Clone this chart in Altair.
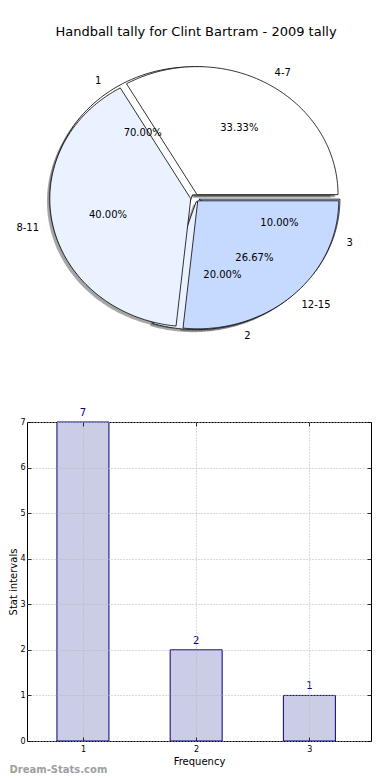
import altair as alt
import pandas as pd

# ---------------- data ----------------
outer_labels = ["4-7", "8-11", "12-15"]
outer_counts = [5, 6, 4]
inner_labels = ["1", "2", "3"]
inner_counts = [7, 2, 1]

freq_values = [1, 2, 3]
stat_values = [7, 2, 1]
stat_ticks = [0, 1, 2, 3, 4, 5, 6, 7]

title_text = "Handball tally for Clint Bartram - 2009 tally"
x_title = "Frequency"
y_title = "Stat intervals"
watermark = ["Dream-Stats.com"]

slice_colors = ["#ffffff", "#ebf2ff", "#c6d9ff"]

# ---------------- geometry / style constants ----------------
EXPLODE = 0.03
SHADOW = 0.02
N = 120
FONT = "DejaVu Sans"
PLOT_W = 344

XMIN, XMAX = -1.191, 1.249
YMIN, YMAX = -1.477, 1.195

rows = []
for ring, labs, cnts in (("inner", inner_labels, inner_counts),
                         ("outer", outer_labels, outer_counts)):
    for i, (lab, c) in enumerate(zip(labs, cnts)):
        rows.append({"ring": ring, "label": lab, "count": c, "idx": i})
pie_df = pd.DataFrame(rows)

xs = alt.Scale(domain=[XMIN, XMAX], nice=False, zero=False)
ys = alt.Scale(domain=[YMIN, YMAX], nice=False, zero=False)

base = (
    alt.Chart(pie_df)
    .transform_joinaggregate(total="sum(count)", groupby=["ring"])
    .transform_window(cum="sum(count)", groupby=["ring"],
                      sort=[alt.SortField("idx")], frame=[None, 0])
    .transform_calculate(a0="2*PI*(datum.cum - datum.count)/datum.total")
    .transform_calculate(a1="2*PI*datum.cum/datum.total")
    .transform_calculate(mid="(datum.a0 + datum.a1)/2")
    .transform_calculate(ex=f"{EXPLODE}*cos(datum.mid)")
    .transform_calculate(ey=f"{EXPLODE}*sin(datum.mid)")
    .transform_calculate(pct="format(100*datum.count/datum.total, '.2f') + '%'")
    .transform_calculate(key="datum.ring + '|' + datum.label")
)

poly = (
    base.transform_calculate(k=f"sequence(0, {N + 2})")
    .transform_flatten(["k"])
    .transform_calculate(ang=f"datum.a0 + (datum.a1 - datum.a0)*(datum.k - 1)/{N}")
    .transform_calculate(px="datum.k == 0 ? datum.ex : datum.ex + cos(datum.ang)")
    .transform_calculate(py="datum.k == 0 ? datum.ey : datum.ey + sin(datum.ang)")
)

shadow = (
    poly.transform_calculate(sx=f"datum.px - {SHADOW}", sy=f"datum.py - {SHADOW}")
    .mark_line(interpolate="linear-closed", fill="#4d4d4d", fillOpacity=0.5,
               stroke="#4d4d4d", strokeOpacity=0.0)
    .encode(x=alt.X("sx:Q", scale=xs, axis=None),
            y=alt.Y("sy:Q", scale=ys, axis=None),
            detail="key:N", order="k:Q")
)

fill_enc = alt.Fill("idx:O", scale=alt.Scale(domain=[0, 1, 2], range=slice_colors), legend=None)


def wedges(ring):
    return (
        poly.transform_filter(f"datum.ring == '{ring}'")
        .mark_line(interpolate="linear-closed", stroke="black", strokeWidth=0.8)
        .encode(x=alt.X("px:Q", scale=xs, axis=None),
                y=alt.Y("py:Q", scale=ys, axis=None),
                detail="key:N", order="k:Q", fill=fill_enc)
    )


lab = (base.transform_calculate(lx="datum.ex + 1.1*cos(datum.mid)")
       .transform_calculate(ly="datum.ey + 1.1*sin(datum.mid)"))
lab_right = (
    lab.transform_filter("cos(datum.mid) > 0")
    .mark_text(align="left", baseline="middle", fontSize=10, font=FONT, color="black")
    .encode(x=alt.X("lx:Q", scale=xs, axis=None), y=alt.Y("ly:Q", scale=ys, axis=None),
            text="label:N")
)
lab_left = (
    lab.transform_filter("cos(datum.mid) <= 0")
    .mark_text(align="right", baseline="middle", fontSize=10, font=FONT, color="black")
    .encode(x=alt.X("lx:Q", scale=xs, axis=None), y=alt.Y("ly:Q", scale=ys, axis=None),
            text="label:N")
)
pct = (
    base.transform_calculate(tx="datum.ex + 0.6*cos(datum.mid)")
    .transform_calculate(ty="datum.ey + 0.6*sin(datum.mid)")
    .mark_text(align="center", baseline="middle", fontSize=10, font=FONT, color="black")
    .encode(x=alt.X("tx:Q", scale=xs, axis=None), y=alt.Y("ty:Q", scale=ys, axis=None),
            text="pct:N")
)

pie = alt.layer(shadow, wedges("inner"), wedges("outer"), lab_right, lab_left, pct).properties(
    width=PLOT_W, height=342,
    title=alt.TitleParams(title_text, fontSize=13, fontWeight="normal", font=FONT,
                          color="black", anchor="middle", frame="group", offset=6, dx=-3),
    view=alt.ViewBackground(stroke="transparent"),
)

# ---------------- bar chart ----------------
bar_df = pd.DataFrame({"freq": freq_values, "stat": stat_values})

common = dict(domain=False, labelColor="black", titleColor="black",
              titleFontWeight="normal", labelFont=FONT, titleFont=FONT, zindex=1,
              ticks=True, tickSize=4, tickColor="black", tickWidth=0.8, offset=-4)
grid_kw = dict(grid=True, gridDash=[1, 2], gridColor="#b5b5b5", gridWidth=1)
bare = dict(labels=False, title=None, grid=False)

xsc = alt.Scale(domain=[0.55, 3.5], nice=False, zero=False)
ysc = alt.Scale(domain=[0, 7], nice=False, zero=True)

X = alt.X("freq:Q", scale=xsc,
          axis=alt.Axis(values=freq_values, format="d", title=x_title, labelFontSize=8,
                        titleFontSize=10, labelPadding=4, titlePadding=3,
                        labelFlush=False, orient="bottom", **grid_kw, **common))
Y = alt.Y("stat:Q", scale=ysc,
          axis=alt.Axis(values=stat_ticks, format="d", title=y_title, labelFontSize=8,
                        titleFontSize=10, labelPadding=2, titlePadding=1,
                        orient="left", **grid_kw, **common))
X_top = alt.X("freq:Q", scale=xsc,
              axis=alt.Axis(values=freq_values, orient="top", **bare, **common))
Y_right = alt.Y("stat:Q", scale=ysc,
                axis=alt.Axis(values=stat_ticks, orient="right", **bare, **common))

bars = alt.Chart(bar_df).mark_bar(size=52, fill="#cbcde6", stroke="#000080",
                                  strokeWidth=1).encode(x=X, y=Y)
vals = alt.Chart(bar_df).mark_text(dy=-9, color="#000080", fontSize=10, font=FONT,
                                   baseline="middle").encode(x=X_top, y=Y_right,
                                                             text="stat:Q")
wm = alt.Chart(pd.DataFrame({"t": watermark})).mark_text(
    align="left", baseline="middle", fontSize=10, fontWeight="bold", font=FONT,
    color="#a0a0a0").encode(x=alt.value(-17.5), y=alt.value(348), text="t:N")

bar_chart = alt.layer(bars, vals, wm).properties(
    width=PLOT_W, height=319,
    view=alt.ViewBackground(stroke="black", strokeWidth=1),
)

chart = alt.vconcat(pie, bar_chart, spacing=19).properties(
    padding={"left": 0, "top": 17, "right": 0, "bottom": 0},
    background="white",
).configure(font=FONT)

chart.save("out.html", embed_options={"renderer": "svg", "actions": False})
